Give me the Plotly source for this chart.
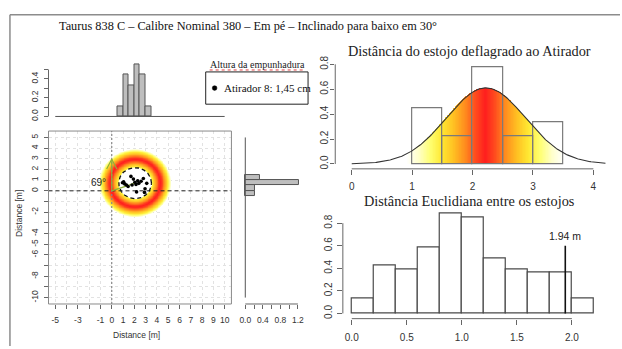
import numpy as np
import plotly.graph_objects as go

W, H = 622, 349

# ---------------- data ----------------
TITLE = "Taurus 838 C – Calibre Nominal 380 – Em pé – Inclinado para baixo em 30°"
TITLE_TR = "Distância do estojo deflagrado ao Atirador"
TITLE_BR = "Distância Euclidiana entre os estojos"
AXIS_LABEL = "Distance [m]"
LEGEND_TITLE = "Altura da empunhadura"
LEGEND_TEXT = "Atirador 8: 1,45 cm"
ANGLE_TEXT = "69°"

# cartridge case positions (m)
PT_X = [0.95, 1.05, 1.15, 1.30, 1.45, 1.70, 1.80, 1.92, 2.05, 2.15, 2.30, 2.20, 2.40, 2.60, 2.80, 2.90, 2.95, 3.10]
PT_Y = [0.75, 0.85, 0.65, 0.55, 0.40, 1.35, 0.55, 1.10, 0.80, 0.60, 0.95, -0.10, 0.70, 0.90, 1.15, -0.15, 0.20, 0.70]
CENTER_X, CENTER_Y = 2.07, 0.72
RADIUS = 1.45
NORTH_LEN = 2.95

# distance of each case to the shooter (m)
SHOOTER_DIST = [1.20, 1.30, 1.35, 1.45, 1.70, 1.90, 2.05, 2.15, 2.25, 2.30, 2.35, 2.42, 2.48,
                2.65, 2.85, 3.10, 3.20, 3.30]

# histogram of euclidean distances between cases (density per 0.2 m bin starting at 0)
EUC_START, EUC_STEP = 0.0, 0.2
EUC_DENSITY = [0.131, 0.425, 0.392, 0.588, 0.882, 0.850, 0.490, 0.392, 0.359, 0.359, 0.131]
MARK_VAL = 1.94
MARK_TOP = 0.60
MARK_TEXT = "1.94 m"

# scatter tick labels
SC_XTICKS = list(range(-5, 11))
SC_XTEXT = ["-5", "", "-3", "", "-1", "0", "1", "2", "3", "4", "5", "6", "7", "8", "9", "10"]
SC_YTICKS = list(range(-10, 6))
SC_YTEXT = ["-10", "", "-8", "", "-6", "-5", "-4", "", "-2", "", "0", "1", "2", "3", "4", "5"]

SANS = "Liberation Sans, Arial, sans-serif"
SERIF = "Liberation Serif"

# ---------------- geometry of panels (pixels) ----------------
SP = {
    "sc": dict(xd=(44, 229), yd=(129, 306), xr=(-5.6, 10.6), yr=(-10.6, 5.6)),
    "tm": dict(xd=(44, 229), yd=(58.8, 116), xr=(-5.6, 10.6), yr=(-0.02, 0.575)),
    "rm": dict(xd=(241.7, 300.7), yd=(129, 306), xr=(-0.03, 1.3), yr=(-10.6, 5.6)),
    "tr": dict(xd=(334, 619.5), yd=(56.6, 167.7), xr=(-0.273, 4.4), yr=(-0.039, 0.832)),
    "br": dict(xd=(341.7, 605.4), yd=(209.3, 321), xr=(-0.081, 2.288), yr=(-0.046, 0.921)),
}


def dom(sp):
    g = SP[sp]
    return [g["xd"][0] / W, g["xd"][1] / W], [1 - g["yd"][1] / H, 1 - g["yd"][0] / H]


def to_paper(sp, x, y):
    g = SP[sp]
    fx = (x - g["xr"][0]) / (g["xr"][1] - g["xr"][0])
    fy = (y - g["yr"][0]) / (g["yr"][1] - g["yr"][0])
    X = g["xd"][0] + fx * (g["xd"][1] - g["xd"][0])
    Y = g["yd"][1] - fy * (g["yd"][1] - g["yd"][0])
    return X / W, 1 - Y / H


def pp(x, y):
    return x / W, 1 - y / H


fig = go.Figure()

# ---------------- derived statistics ----------------
d = np.array(SHOOTER_DIST)
MU = d.mean()
SD = d.std(ddof=1)


def npdf(x):
    return np.exp(-0.5 * ((x - MU) / SD) ** 2) / (SD * np.sqrt(2 * np.pi))


# ---------------- main scatter ----------------
RING_CS = [[0.0, "#ff1f1f"], [0.15, "#ff3d1f"], [0.35, "#ff8a1e"], [0.55, "#ffc626"],
           [0.72, "#ffee38"], [0.86, "#ffff8a"], [1.0, "#fffff2"]]
hx = np.arange(-1.3, 5.5, 0.04)
hy = np.arange(-2.7, 4.2, 0.04)
XX, YY = np.meshgrid(hx, hy)
RR = np.hypot(XX - CENTER_X, YY - CENTER_Y)
TT = np.abs(RR - MU)
ZZ = np.where((RR >= RADIUS) & (TT <= 0.95), TT, np.nan)
fig.add_trace(go.Heatmap(x=hx, y=hy, z=ZZ, colorscale=RING_CS, zmin=0, zmax=0.95,
                         showscale=False, hoverinfo="skip", xaxis="x", yaxis="y"))

th = np.linspace(0, 2 * np.pi, 200)
fig.add_trace(go.Scatter(x=CENTER_X + RADIUS * np.cos(th), y=CENTER_Y + RADIUS * np.sin(th),
                         mode="lines", fill="toself", fillcolor="white", line=dict(width=0),
                         hoverinfo="skip", xaxis="x", yaxis="y"))
fig.add_trace(go.Scatter(x=[SP["sc"]["xr"][0], SP["sc"]["xr"][1]], y=[0, 0], mode="lines",
                         line=dict(color="#222", width=1, dash="4px,3px"), xaxis="x", yaxis="y"))
fig.add_trace(go.Scatter(x=[0, 0], y=[SP["sc"]["yr"][0], SP["sc"]["yr"][1]], mode="lines",
                         line=dict(color="#888", width=1.2, dash="2px,2px"), xaxis="x", yaxis="y"))
GREEN = "#8fb03a"
fig.add_trace(go.Scatter(x=[0, 0, None, -0.45, 0, 0.45, None, 0, CENTER_X],
                         y=[0, NORTH_LEN, None, NORTH_LEN - 0.9, NORTH_LEN, NORTH_LEN - 0.9, None, 0, CENTER_Y],
                         mode="lines", line=dict(color=GREEN, width=1.2), xaxis="x", yaxis="y"))
fig.add_trace(go.Scatter(x=CENTER_X + RADIUS * np.cos(th), y=CENTER_Y + RADIUS * np.sin(th),
                         mode="lines", line=dict(color="#111", width=1.3, dash="4px,3px"),
                         xaxis="x", yaxis="y"))
fig.add_trace(go.Scatter(x=PT_X, y=PT_Y, mode="markers",
                         marker=dict(color="black", size=3.6), xaxis="x", yaxis="y"))

# ---------------- marginal histograms ----------------
fig.add_trace(go.Histogram(x=PT_X, xbins=dict(start=0.5, end=3.5, size=0.5),
                           histnorm="probability density",
                           marker=dict(color="#bebebe", line=dict(color="#555", width=1)),
                           xaxis="x2", yaxis="y2"))
fig.add_trace(go.Histogram(y=PT_Y, ybins=dict(start=-0.5, end=1.5, size=0.5),
                           orientation="h", histnorm="probability density",
                           marker=dict(color="#bebebe", line=dict(color="#555", width=1)),
                           xaxis="x3", yaxis="y3"))

# ---------------- top right: distance to shooter ----------------
GRAD_CS = [[0.0, "#ff1e1e"], [0.12, "#ff4a1e"], [0.25, "#ff8a1e"], [0.4, "#ffbf22"],
           [0.55, "#ffe832"], [0.7, "#ffff72"], [0.85, "#ffffca"], [1.0, "#ffffff"]]
gx = np.arange(0, 4.2001, 0.01)
fig.add_trace(go.Bar(x=gx, y=npdf(gx), width=0.0115,
                     marker=dict(color=np.abs(gx - MU), colorscale=GRAD_CS, cmin=0, cmax=1.3,
                                 line=dict(width=0)),
                     hoverinfo="skip", xaxis="x4", yaxis="y4"))
fig.add_trace(go.Histogram(x=SHOOTER_DIST, xbins=dict(start=1.0, end=3.5, size=0.5),
                           histnorm="probability density",
                           marker=dict(color="rgba(0,0,0,0)", line=dict(color="#7a7a7a", width=1.2)),
                           xaxis="x4", yaxis="y4"))
cx = np.linspace(0, 4.2, 300)
fig.add_trace(go.Scatter(x=cx, y=npdf(cx), mode="lines", line=dict(color="#333", width=1.1),
                         xaxis="x4", yaxis="y4"))

# ---------------- bottom right: euclidean distances ----------------
centers = [EUC_START + EUC_STEP * (i + 0.5) for i in range(len(EUC_DENSITY))]
fig.add_trace(go.Bar(x=centers, y=EUC_DENSITY, width=EUC_STEP,
                     marker=dict(color="white", line=dict(color="#4a4a4a", width=1.2)),
                     xaxis="x5", yaxis="y5"))
fig.add_trace(go.Scatter(x=[MARK_VAL, MARK_VAL], y=[0, MARK_TOP], mode="lines",
                         line=dict(color="#111", width=1.6), xaxis="x5", yaxis="y5"))

# ---------------- axes ----------------
TICKC = "#666"


def base_axis(sp, which, size, **kw):
    xd, yd = dom(sp)
    g = SP[sp]
    a = dict(domain=xd if which == "x" else yd,
             range=list(g["xr"] if which == "x" else g["yr"]),
             showgrid=False, zeroline=False, showline=False, ticks="outside",
             tickcolor=TICKC, tickwidth=1, ticklen=4,
             tickfont=dict(family=SANS, size=size, color="#333"), fixedrange=True)
    a.update(kw)
    return a


layout_axes = dict(
    xaxis=base_axis("sc", "x", 8.5, anchor="y", tickmode="array", tickvals=SC_XTICKS,
                    ticktext=SC_XTEXT, showgrid=True, gridcolor="#e2e2e2", griddash="dot",
                    ticklabelstandoff=4),
    yaxis=base_axis("sc", "y", 8.5, anchor="x", tickmode="array", tickvals=SC_YTICKS,
                    ticktext=SC_YTEXT, tickangle=-90, showgrid=True, gridcolor="#e2e2e2",
                    griddash="dot", ticklabelstandoff=2),
    xaxis2=base_axis("tm", "x", 8.5, anchor="y2", visible=False),
    yaxis2=base_axis("tm", "y", 8.5, anchor="x2", tickmode="array",
                     tickvals=[0, 0.1, 0.2, 0.3, 0.4, 0.5],
                     ticktext=["0.0", "", "0.2", "", "0.4", ""], tickangle=-90, ticklabelstandoff=2),
    xaxis3=base_axis("rm", "x", 8.5, anchor="y3", tickmode="array",
                     tickvals=[0, 0.2, 0.4, 0.6, 0.8, 1.0, 1.2],
                     ticktext=["0.0", "", "0.4", "", "0.8", "", "1.2"], ticklabelstandoff=4),
    yaxis3=base_axis("rm", "y", 8.5, anchor="x3", visible=False),
    xaxis4=base_axis("tr", "x", 10, anchor="y4", tickmode="array", tickvals=[0, 1, 2, 3, 4],
                     ticktext=["0", "1", "2", "3", "4"], ticklen=5, ticklabelstandoff=3),
    yaxis4=base_axis("tr", "y", 10, anchor="x4", tickmode="array",
                     tickvals=[0, 0.2, 0.4, 0.6, 0.8],
                     ticktext=["0.0", "0.2", "0.4", "0.6", "0.8"], tickangle=-90, ticklen=4,
                     ticklabelstandoff=-2),
    xaxis5=base_axis("br", "x", 10, anchor="y5", tickmode="array",
                     tickvals=[0, 0.5, 1.0, 1.5, 2.0],
                     ticktext=["0.0", "0.5", "1.0", "1.5", "2.0"], ticklen=5, ticklabelstandoff=4),
    yaxis5=base_axis("br", "y", 10, anchor="x5", tickmode="array",
                     tickvals=[0, 0.2, 0.4, 0.6, 0.8],
                     ticktext=["0.0", "0.2", "0.4", "0.6", "0.8"], tickangle=-90, ticklen=5,
                     ticklabelstandoff=1),
)

# ---------------- shapes (axis lines, frames) ----------------
shapes = []


def seg(p0, p1, color="#555", width=1, dash=None):
    ln = dict(color=color, width=width)
    if dash:
        ln["dash"] = dash
    shapes.append(dict(type="line", xref="paper", yref="paper", x0=p0[0], y0=p0[1],
                       x1=p1[0], y1=p1[1], line=ln))


# scatter box
xd, yd = dom("sc")
shapes.append(dict(type="rect", xref="paper", yref="paper", x0=xd[0], x1=xd[1], y0=yd[0], y1=yd[1],
                   line=dict(color="#8a8a8a", width=1)))
# top marginal axes
g = SP["tm"]
seg(to_paper("tm", g["xr"][0], 0), to_paper("tm", g["xr"][0], 0.5), TICKC)
seg(to_paper("tm", -5, 0), to_paper("tm", 10, 0), "#555")
# right marginal
g = SP["rm"]
seg(to_paper("rm", 0, g["yr"][0]), to_paper("rm", 1.2, g["yr"][0]), TICKC)
seg(to_paper("rm", 0, -10), to_paper("rm", 0, 5), "#555")
# top right
g = SP["tr"]
seg(to_paper("tr", g["xr"][0], 0), to_paper("tr", g["xr"][0], 0.8), TICKC)
seg(to_paper("tr", 0, g["yr"][0]), to_paper("tr", 4, g["yr"][0]), TICKC)
# bottom right
g = SP["br"]
seg(to_paper("br", g["xr"][0], 0), to_paper("br", g["xr"][0], 0.8), TICKC)
seg(to_paper("br", 0, g["yr"][0]), to_paper("br", 2, g["yr"][0]), TICKC)
# outer frame
seg(pp(5, 10), pp(622, 10), "#8c8c8c", 1.5)
seg(pp(5, 10), pp(5, 349), "#8c8c8c", 1.5)
# legend box
x0, y0 = pp(203, 68.5)
x1, y1 = pp(306.5, 101.5)
shapes.append(dict(type="rect", xref="paper", yref="paper", x0=x0, x1=x1, y0=y1, y1=y0,
                   line=dict(color="#222", width=1), fillcolor="white"))
cxp, cyp = pp(212, 85)
r = 2.4
shapes.append(dict(type="circle", xref="paper", yref="paper", x0=cxp - r / W, x1=cxp + r / W,
                   y0=cyp - r / H, y1=cyp + r / H, fillcolor="black", line=dict(color="black", width=0.5)))
# spell-check style underline below the legend title
seg(pp(207, 66.5), pp(302, 66.5), "#e04040", 1, "dot")

# ---------------- annotations ----------------
ann = []


def text(t, x, y, size, family=SANS, color="#222", angle=0, xanchor="center"):
    ann.append(dict(text=t, x=x, y=y, xref="paper", yref="paper", showarrow=False,
                    font=dict(family=family, size=size, color=color), textangle=angle,
                    xanchor=xanchor, yanchor="middle"))


text(TITLE, *pp(246, 21), 12.3, SERIF, "#111")
text(TITLE_TR, *pp(469.5, 47), 14.3, SERIF, "#222")
text(TITLE_BR, *pp(470, 200.5), 14.3, SERIF, "#222")
text(AXIS_LABEL, *pp(133, 338), 8.5, SANS, "#333")
text(AXIS_LABEL, *pp(14, 213), 8.5, SANS, "#333", angle=-90)
text(LEGEND_TITLE, *pp(255, 61), 10, SERIF, "#222")
text(LEGEND_TEXT, *pp(219, 85), 11, SERIF, "#111", xanchor="left")
ann.append(dict(text=ANGLE_TEXT, x=-1.18, y=0.75, xref="x", yref="y", showarrow=False,
                font=dict(family=SANS, size=10, color="#222")))
ann.append(dict(text=MARK_TEXT, x=MARK_VAL, y=MARK_TOP + 0.085, xref="x5", yref="y5", showarrow=False,
                font=dict(family=SANS, size=10.5, color="#222")))

fig.update_layout(
    width=W, height=H, margin=dict(l=0, r=0, t=0, b=0),
    paper_bgcolor="white", plot_bgcolor="rgba(0,0,0,0)",
    showlegend=False, barmode="overlay", bargap=0,
    shapes=shapes, annotations=ann, **layout_axes,
)

fig.write_html("out.html")
